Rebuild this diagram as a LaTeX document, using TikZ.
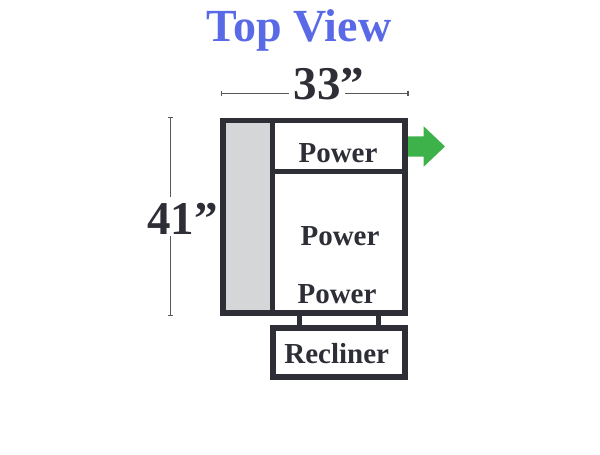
\documentclass[tikz,border=0pt]{standalone}
\usepackage{fontspec}
\setmainfont{Liberation Serif}
\usepackage{xcolor}
\usetikzlibrary{shapes, shapes.arrows, positioning, arrows.meta}

\definecolor{titleblue}{HTML}{5A6AE6}
\definecolor{darkline}{HTML}{2D2E36}
\definecolor{chaisegray}{HTML}{D5D6D8}
\definecolor{arrowgreen}{HTML}{3DB24A}

\tikzset{
    seatbox/.style={rectangle, draw=darkline, line width=5.5pt, inner sep=0pt, outer sep=0pt},
    seatlabel/.style={anchor=base, inner sep=0pt, text=darkline, font=\bfseries\fontsize{29}{29}\selectfont},
    dimlabel/.style={anchor=base, inner sep=0pt, text=darkline, font=\bfseries\fontsize{47}{47}\selectfont},
    dimpart/.style={draw=darkline!80, line width=1.3pt}
}

\begin{document}
\begin{tikzpicture}[x=1pt, y=-1pt]
        \useasboundingbox (0, 0) rectangle (600, 455);

        \node[seatbox, fill=chaisegray, minimum width=49.5pt, minimum height=192.5pt] (chaise) at (247.75, 216.75) {};
        \node[seatbox, minimum width=132.5pt, minimum height=51.2pt] (topseat) at (338.75, 146.1) {};
        \node[seatbox, minimum width=132.5pt, minimum height=141.3pt] (midseat) at (338.75, 242.35) {};
        \node[seatbox, minimum width=132pt, minimum height=49pt] (recliner) at (339, 352.5) {};

        \coordinate (struta) at (299.3, 313);
        \coordinate (strutb) at (378.7, 313);
        \coordinate (strutc) at (299.3, 328);
        \coordinate (strutd) at (378.7, 328);
        \draw[draw=darkline, line width=5.5pt] (struta) to (strutc)
            (strutb) to (strutd);

        \node[single arrow, fill=arrowgreen, inner sep=0pt, outer sep=0pt, text height=20pt, text depth=0pt, minimum width=40pt, minimum height=37pt,
            single arrow head extend=10pt, single arrow tip angle=87, anchor=west] (pusharrow) at (408, 146.5) {};

        \node[anchor=base, inner sep=0pt, text=titleblue, font=\bfseries\fontsize{46}{46}\selectfont] (title) at (299, 41.7) {Top View};
        \node[dimlabel] (widthtext) at (329, 99) {33”};
        \node[dimlabel] (heighttext) at (182.5, 234) {41”};

        \node[seatlabel] (powera) at (338, 162.7) {Power};
        \node[seatlabel] (powerb) at (340, 245) {Power};
        \node[seatlabel] (powerc) at (337, 303) {Power};
        \node[seatlabel] (reclinertext) at (336.7, 363) {Recliner};

        \coordinate (widtha) at (220.5, 93.7);
        \coordinate (widthb) at (289, 93.7);
        \coordinate (widthc) at (345, 93.7);
        \coordinate (widthd) at (408.5, 93.7);
        \coordinate (heighta) at (170.5, 117);
        \coordinate (heightb) at (170.5, 197);
        \coordinate (heightc) at (170.5, 236);
        \coordinate (heightd) at (170.5, 316);
        \draw[dimpart, {Bar[width=5pt]}-] (widtha) to (widthb);
        \draw[dimpart, -{Bar[width=5pt]}] (widthc) to (widthd);
        \draw[dimpart, {Bar[width=5pt]}-] (heighta) to (heightb);
        \draw[dimpart, -{Bar[width=5pt]}] (heightc) to (heightd);
    \end{tikzpicture}
\end{document}
